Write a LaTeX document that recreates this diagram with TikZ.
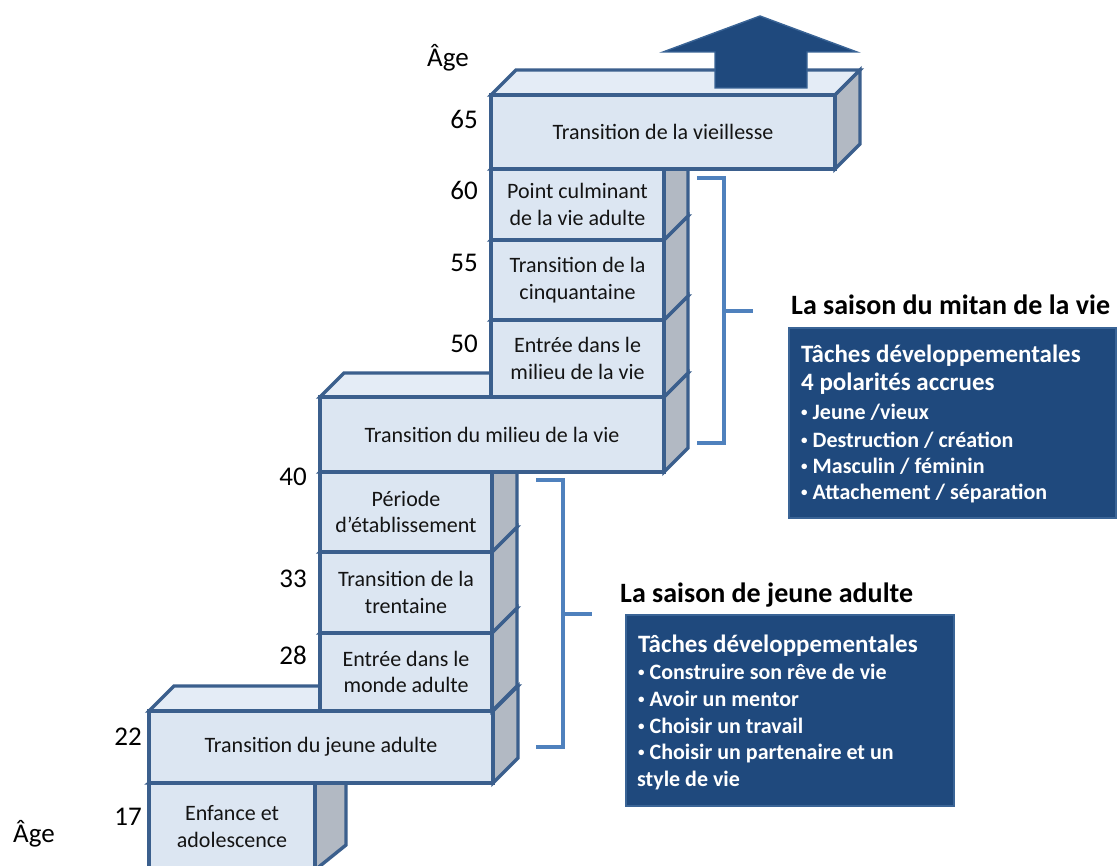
\documentclass[tikz,border=0pt]{standalone}
\usepackage{fontspec}
\usepackage{graphicx}
\setmainfont{Carlito}
\definecolor{frontc}{HTML}{DCE6F2}
\definecolor{topc}{HTML}{E4ECF6}
\definecolor{sidec}{HTML}{B2B9C3}
\definecolor{bordc}{HTML}{3B5F8D}
\definecolor{brackc}{HTML}{4F81BD}
\definecolor{darkc}{HTML}{1F497D}
\definecolor{darkb}{HTML}{3A6496}
\definecolor{txtc}{HTML}{141414}
\newcommand{\smbul}{\raisebox{2.5pt}{\fontsize{13}{13}\selectfont •}\hspace{5pt}}
\tikzset{
  edge/.style={draw=bordc, line width=3.4pt},
  topface/.style={edge, fill=topc},
  sideface/.style={edge, fill=sidec},
  frontface/.style={edge, fill=frontc, rectangle, inner sep=2pt, align=center,
    text=txtc, font=\fontsize{22}{26.5}\selectfont},
  agelbl/.style={anchor=base east, inner sep=0pt, text=black, font=\fontsize{27}{32}\selectfont},
  agetitle/.style={anchor=base west, inner sep=0pt, text=black, font=\fontsize{27}{32}\selectfont},
  bracket/.style={draw=brackc, line width=3.6pt},
  taskbox/.style={rectangle, fill=darkc, draw=darkb, line width=2.4pt, anchor=north west, inner sep=0pt},
  seasontitle/.style={anchor=base west, inner sep=0pt, text=black, font=\fontsize{28}{33}\selectfont\bfseries},
  taskhead/.style={anchor=base west, inner sep=0pt, text=white, font=\fontsize{25}{30}\selectfont\bfseries},
  taskitem/.style={anchor=base west, inner sep=0pt, text=white, font=\fontsize{22}{26}\selectfont\bfseries},
  bigarrow/.style={fill=darkc, draw=darkb, line width=1.4pt, line join=miter}
}
% #1 name, #2 x1, #3 x2, #4 ytop, #5 ybot, #6 dx, #7 dy, #8 text
\newcommand{\lifeblock}[8]{%
  \filldraw[topface] (#2,#4) -- ({#2+#6},{#4-#7}) -- ({#3+#6},{#4-#7}) -- (#3,#4) -- cycle;
  \filldraw[sideface] (#3,#4) -- ({#3+#6},{#4-#7}) -- ({#3+#6},{#5-#7}) -- (#3,#5) -- cycle;
  \node[frontface, minimum width={#3pt-#2pt}, minimum height={#5pt-#4pt}] (#1)
    at ({(#2+#3)/2},{(#4+#5)/2}) {#8};
}
\begin{document}
\begin{tikzpicture}[x=1pt,y=-1pt]
\clip (0,0) rectangle (1118,866);
\fill[white] (0,0) rectangle (1118,866);

% blocks, bottom to top
\lifeblock{blkA}{149}{315}{783}{870}{31}{25}{Enfance et\\adolescence}
\lifeblock{blkB}{149}{493}{711}{783}{25}{25}{Transition du jeune adulte}
\lifeblock{blkC}{320}{492}{633}{711}{25}{25}{Entrée dans le\\monde adulte}
\lifeblock{blkD}{320}{492}{552}{633}{25}{25}{Transition de la\\trentaine}
\lifeblock{blkE}{320}{492}{472}{552}{25}{25}{Période\\d’établissement}
\lifeblock{blkF}{320}{664}{397}{472}{24}{24}{Transition du milieu de la vie}
\lifeblock{blkG}{491}{664}{320}{397}{24}{24}{Entrée dans le\\milieu de la vie}
\lifeblock{blkH}{491}{664}{240}{320}{24}{24}{Transition de la\\cinquantaine}
\lifeblock{blkI}{491}{664}{169}{240}{24}{24}{Point culminant\\de la vie adulte}
\lifeblock{blkJ}{491}{835}{95}{169}{25}{25}{Transition de la vieillesse}

% upward arrow
\filldraw[bigarrow] (715,88) -- (715,52) -- (663,52) -- (760,16) -- (857,52) -- (807,52) -- (807,88) -- cycle;

% ages
\node[agetitle] (agetop) at (427,67) {Âge};
\node[agetitle] (agebot) at (13,842) {Âge};
\node[agelbl] (a65) at (478,129) {65};
\node[agelbl] (a60) at (478,200) {60};
\node[agelbl] (a55) at (478,272) {55};
\node[agelbl] (a50) at (478,352) {50};
\node[agelbl] (a40) at (307,485) {40};
\node[agelbl] (a33) at (307,587) {33};
\node[agelbl] (a28) at (307,664) {28};
\node[agelbl] (a22) at (142,745) {22};
\node[agelbl] (a17) at (142,825) {17};

% brackets
\coordinate (ub1) at (697,178);
\coordinate (ub2) at (724,178);
\coordinate (ub3) at (724,443);
\coordinate (ub4) at (697,443);
\coordinate (ubm) at (724,311);
\coordinate (ubt) at (753,311);
\draw[bracket] (ub1) -- (ub2) -- (ub3) -- (ub4);
\draw[bracket] (ubm) -- (ubt);
\coordinate (lb1) at (536,480);
\coordinate (lb2) at (563,480);
\coordinate (lb3) at (563,747);
\coordinate (lb4) at (536,747);
\coordinate (lbm) at (563,614);
\coordinate (lbt) at (592,614);
\draw[bracket] (lb1) -- (lb2) -- (lb3) -- (lb4);
\draw[bracket] (lbm) -- (lbt);

% mid-life season
\node[seasontitle] (mtitle) at (791,315) {La saison du mitan de la vie};
\node[taskbox, minimum width=327pt, minimum height=190pt] (mbox) at (788,327) {};
\node[taskhead] (m1) at (801,362) {Tâches développementales};
\node[taskhead] (m2) at (801,390) {4 polarités accrues};
\node[taskitem] (m3) at (801,419) {\smbul Jeune /vieux};
\node[taskitem] (m4) at (801,447) {\smbul Destruction / création};
\node[taskitem] (m5) at (801,473) {\smbul Masculin / féminin};
\node[taskitem] (m6) at (801,499) {\smbul Attachement / séparation};

% young adult season
\node[seasontitle] (ytitle) at (620,602) {La saison de jeune adulte};
\node[taskbox, minimum width=328pt, minimum height=191pt] (ybox) at (625,614) {};
\node[taskhead] (y1) at (638,652) {Tâches développementales};
\node[taskitem] (y2) at (638,679) {\smbul Construire son rêve de vie};
\node[taskitem] (y3) at (638,706) {\smbul Avoir un mentor};
\node[taskitem] (y4) at (638,733) {\smbul Choisir un travail};
\node[taskitem] (y5) at (638,759) {\smbul Choisir un partenaire et un};
\node[taskitem] (y6) at (637,786) {style de vie};
\end{tikzpicture}
\end{document}
